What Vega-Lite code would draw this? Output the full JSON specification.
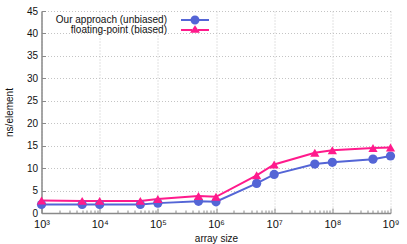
{
  "$schema": "https://vega.github.io/schema/vega-lite/v6.json",
  "width": 349,
  "height": 202,
  "autosize": "none",
  "padding": {"left": 41.5, "top": 11, "right": 17, "bottom": 31},
  "background": "white",
  "config": {
    "view": {"stroke": null},
    "font": "Liberation Sans",
    "axis": {
      "domainColor": "#8a8a8a",
      "domainWidth": 1.5,
      "tickColor": "#8a8a8a",
      "tickWidth": 1,
      "labelFont": "Liberation Sans",
      "labelFontSize": 10,
      "labelColor": "#111",
      "titleFont": "Liberation Sans",
      "titleFontSize": 10,
      "titleFontWeight": "normal",
      "titleColor": "#111",
      "grid": true,
      "gridColor": "#c4c4c4",
      "gridDash": [1, 2],
      "gridWidth": 1
    },
    "legend": {
      "title": null,
      "orient": "none",
      "padding": 0,
      "rowPadding": 0,
      "symbolOpacity": 1,
      "symbolStrokeWidth": 0,
      "symbolSize": 100,
      "labelAlign": "right",
      "labelOffset": -33,
      "labelFontSize": 10,
      "labelFont": "Liberation Sans",
      "labelColor": "#111",
      "labelLimit": 300
    }
  },
  "data": {
    "values": [
      {"n": 1000, "t": 1.9, "series": "Our approach (unbiased)"},
      {"n": 5000, "t": 1.9, "series": "Our approach (unbiased)"},
      {"n": 10000, "t": 1.9, "series": "Our approach (unbiased)"},
      {"n": 50000, "t": 1.9, "series": "Our approach (unbiased)"},
      {"n": 100000, "t": 2.2, "series": "Our approach (unbiased)"},
      {"n": 500000, "t": 2.6, "series": "Our approach (unbiased)"},
      {"n": 1000000, "t": 2.5, "series": "Our approach (unbiased)"},
      {"n": 5000000, "t": 6.6, "series": "Our approach (unbiased)"},
      {"n": 10000000, "t": 8.6, "series": "Our approach (unbiased)"},
      {"n": 50000000, "t": 10.9, "series": "Our approach (unbiased)"},
      {"n": 100000000, "t": 11.3, "series": "Our approach (unbiased)"},
      {"n": 500000000, "t": 12.0, "series": "Our approach (unbiased)"},
      {"n": 1000000000, "t": 12.7, "series": "Our approach (unbiased)"},
      {"n": 1000, "t": 2.8, "series": "floating-point (biased)"},
      {"n": 5000, "t": 2.7, "series": "floating-point (biased)"},
      {"n": 10000, "t": 2.7, "series": "floating-point (biased)"},
      {"n": 50000, "t": 2.7, "series": "floating-point (biased)"},
      {"n": 100000, "t": 3.1, "series": "floating-point (biased)"},
      {"n": 500000, "t": 3.8, "series": "floating-point (biased)"},
      {"n": 1000000, "t": 3.6, "series": "floating-point (biased)"},
      {"n": 5000000, "t": 8.4, "series": "floating-point (biased)"},
      {"n": 10000000, "t": 10.8, "series": "floating-point (biased)"},
      {"n": 50000000, "t": 13.4, "series": "floating-point (biased)"},
      {"n": 100000000, "t": 14.0, "series": "floating-point (biased)"},
      {"n": 500000000, "t": 14.5, "series": "floating-point (biased)"},
      {"n": 1000000000, "t": 14.6, "series": "floating-point (biased)"}
    ]
  },
  "encoding": {
    "x": {
      "field": "n",
      "type": "quantitative",
      "scale": {"type": "log", "domain": [1000, 1000000000]},
      "axis": {
        "title": "array size",
        "titlePadding": 2,
        "values": [1000, 2000, 3000, 4000, 5000, 6000, 7000, 8000, 9000, 10000, 20000, 30000, 40000, 50000, 60000, 70000, 80000, 90000, 100000, 200000, 300000, 400000, 500000, 600000, 700000, 800000, 900000, 1000000, 2000000, 3000000, 4000000, 5000000, 6000000, 7000000, 8000000, 9000000, 10000000, 20000000, 30000000, 40000000, 50000000, 60000000, 70000000, 80000000, 90000000, 100000000, 200000000, 300000000, 400000000, 500000000, 600000000, 700000000, 800000000, 900000000, 1000000000],
        "labelExpr": "abs(log(datum.value)/LN10 - round(log(datum.value)/LN10)) < 0.001 ? '10' + ['⁰','¹','²','³','⁴','⁵','⁶','⁷','⁸','⁹'][round(log(datum.value)/LN10)] : ''",
        "labelFontSize": 11,
        "labelPadding": 10,
        "labelFlush": false,
        "labelOverlap": false,
        "tickSize": {"condition": {"test": "abs(log(datum.value)/LN10 - round(log(datum.value)/LN10)) < 0.001", "value": -5}, "value": -3},
        "gridOpacity": {"condition": {"test": "abs(log(datum.value)/LN10 - round(log(datum.value)/LN10)) < 0.001", "value": 1}, "value": 0}
      }
    },
    "y": {
      "field": "t",
      "type": "quantitative",
      "scale": {"domain": [0, 45]},
      "axis": {
        "title": "ns/element",
        "titlePadding": 12,
        "values": [0, 5, 10, 15, 20, 25, 30, 35, 40, 45],
        "tickSize": -4,
        "labelPadding": 8
      }
    },
    "color": {
      "field": "series",
      "type": "nominal",
      "scale": {"domain": ["Our approach (unbiased)", "floating-point (biased)"], "range": ["#5465d6", "#ff1a8c"]}
    }
  },
  "layer": [
    {
      "mark": {"type": "line", "strokeWidth": 2},
      "encoding": {
        "color": {"field": "series", "type": "nominal", "legend": null}
      }
    },
    {
      "mark": {"type": "point", "filled": true, "opacity": 1, "size": 85},
      "encoding": {
        "color": {"field": "series", "type": "nominal", "legend": null},
        "shape": {
          "field": "series",
          "type": "nominal",
          "scale": {"domain": ["Our approach (unbiased)", "floating-point (biased)"], "range": ["circle", "triangle-up"]},
          "legend": null
        }
      }
    },
    {
      "mark": {"type": "point", "filled": true, "opacity": 0, "size": 100},
      "encoding": {
        "color": {
          "field": "series",
          "type": "nominal",
          "legend": {
            "values": ["Our approach (unbiased)"],
            "legendX": 148.5,
            "legendY": 4,
            "symbolType": "M-2.8,-0.2H-0.8V0.2H-2.8Z M0.8,-0.2H2.8V0.2H0.8Z M-0.9,0A0.9,0.9 0 1,1 0.9,0A0.9,0.9 0 1,1 -0.9,0Z"
          }
        }
      }
    },
    {
      "mark": {"type": "point", "filled": true, "opacity": 0, "size": 100},
      "encoding": {
        "color": {
          "field": "series",
          "type": "nominal",
          "legend": {
            "values": ["floating-point (biased)"],
            "legendX": 148.5,
            "legendY": 14,
            "symbolType": "M-2.8,-0.2H-0.6V0.2H-2.8Z M0.6,-0.2H2.8V0.2H0.6Z M-1,0.55L0,-0.95L1,0.55Z"
          }
        }
      }
    }
  ],
  "resolve": {"legend": {"color": "independent"}}
}
